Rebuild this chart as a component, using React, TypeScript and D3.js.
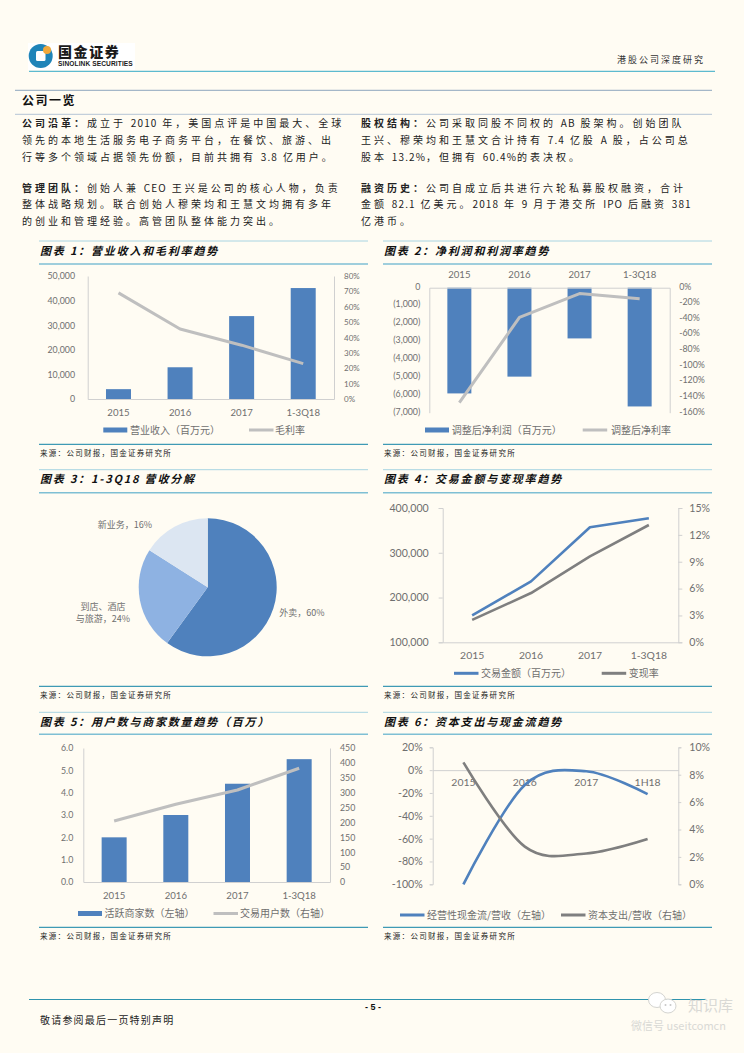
import React, { useEffect, useRef } from "react";
import * as d3 from "d3";

// data
const years = ["2015", "2016", "2017", "1-3Q18"];

const revenue = [4000, 12900, 33700, 45100];
const grossMargin = [69, 45.5, 35, 23];
const revenueTicks = [0, 10000, 20000, 30000, 40000, 50000];
const marginTicks = [0, 10, 20, 30, 40, 50, 60, 70, 80];

const adjProfit = [-5920, -4980, -2840, -6650];
const adjMargin = [-147, -38, -7.5, -14];
const profitTicks = [0, -1000, -2000, -3000, -4000, -5000, -6000, -7000];
const profitMarginTicks = [0, -20, -40, -60, -80, -100, -120, -140, -160];

const pieLabels = ["外卖", "到店、酒店与旅游", "新业务"];
const pieValues = [60, 24, 16];

const gmv = [160000, 236000, 357000, 377000];
const takeRate = [2.5, 5.5, 9.6, 13.1];
const gmvTicks = [100000, 200000, 300000, 400000];
const takeTicks = [0, 3, 6, 9, 12, 15];

const merchants = [2.0, 3.0, 4.4, 5.5];
const buyers = [205, 261, 309, 382];
const merchantTicks = [0, 1, 2, 3, 4, 5, 6];
const buyerTicks = [0, 50, 100, 150, 200, 250, 300, 350, 400, 450];

const cashPeriods = ["2015", "2016", "2017", "1H18"];
const cashFlow = [-100, -13, -1, -21];
const capex = [8.9, 2.75, 2.25, 3.3];
const cashTicks = [20, 0, -20, -40, -60, -80, -100];
const capexTicks = [0, 2, 4, 6, 8, 10];

const introLeft = [
  ["公司沿革：", "成立于 2010 年，美国点评是中国最大、全球"],
  ["", "领先的本地生活服务电子商务平台，在餐饮、旅游、出"],
  ["", "行等多个领域占据领先份额，目前共拥有 3.8 亿用户。"],
  ["管理团队：", "创始人兼 CEO 王兴是公司的核心人物，负责"],
  ["", "整体战略规划。联合创始人穆荣均和王慧文均拥有多年"],
  ["", "的创业和管理经验。高管团队整体能力突出。"],
];
const introRight = [
  ["股权结构：", "公司采取同股不同权的 AB 股架构。创始团队"],
  ["", "王兴、穆荣均和王慧文合计持有 7.4 亿股 A 股，占公司总"],
  ["", "股本 13.2%，但拥有 60.4%的表决权。"],
  ["融资历史：", "公司自成立后共进行六轮私募股权融资，合计"],
  ["", "金额 82.1 亿美元。2018 年 9 月于港交所 IPO 后融资 381"],
  ["", "亿港币。"],
];
const introY = [123, 140, 157, 188.5, 204.5, 221];

const CJK = "'Noto Sans CJK SC', 'Liberation Sans', sans-serif";
const NUM = "Lato, 'Noto Sans CJK SC', sans-serif";
const BLUE = "#4f81bd";
const LIGHT = "#bfbfbf";
const DARK = "#7f7f7f";
const AXIS = "#d0d0d0";
const LABEL = "#6f6f6f";

type G = d3.Selection<any, unknown, null, undefined>;

function addText(g: G, x: number, y: number, s: string, size: number, fill: string, anchor = "start") {
  return g
    .append("text")
    .attr("x", x)
    .attr("y", y)
    .attr("dy", "0.35em")
    .attr("text-anchor", anchor)
    .attr("font-family", CJK)
    .attr("font-size", size)
    .attr("fill", fill)
    .text(s);
}

function hline(g: G, x1: number, x2: number, y: number, color: string, w = 1) {
  g.append("line").attr("x1", x1).attr("x2", x2).attr("y1", y).attr("y2", y).attr("stroke", color).attr("stroke-width", w);
}

// cjk gets wide tracking, latin and digits much less
function spacedRuns(t: d3.Selection<any, unknown, null, undefined>, s: string, weight: string) {
  s.split(/([\x20-\x7e]+)/)
    .filter((r) => r.length)
    .forEach((r) => {
      const latin = /^[\x20-\x7e]+$/.test(r);
      t.append("tspan")
        .attr("font-weight", weight)
        .attr("letter-spacing", latin ? 1.1 : 3)
        .attr("word-spacing", latin ? 1.5 : 0)
        .style("white-space", "pre")
        .text(r);
    });
}

function intro(g: G, x: number, lines: string[][]) {
  lines.forEach((l, i) => {
    const t = g
      .append("text")
      .attr("x", x)
      .attr("y", introY[i])
      .attr("dy", "0.35em")
      .attr("font-family", CJK)
      .attr("font-size", 10)
      .attr("fill", "#222");
    if (l[0]) spacedRuns(t, l[0], "700");
    spacedRuns(t, l[1], "400");
  });
}

function panel(g: G, x1: number, x2: number, title: string, top: number, titleY: number, rule: number, bottom: number) {
  hline(g, x1, x2, top, "#a8d4e2", 1);
  hline(g, x1, x2, rule, "#7fbfd4", 1.4);
  hline(g, x1, x2, bottom, "#3f9ab5", 1.2);
  g.append("text")
    .attr("x", x1 + 1)
    .attr("y", titleY)
    .attr("dy", "0.35em")
    .attr("font-family", CJK)
    .attr("font-size", 11)
    .attr("font-weight", 700)
    .attr("font-style", "italic")
    .attr("letter-spacing", 1.8)
    .attr("fill", "#111")
    .text(title);
  addText(g, x1 + 1, bottom + 9, "来源：公司财报，国金证券研究所", 7.5, "#222").attr("letter-spacing", 1.3);
}

function yAxis(
  g: G,
  scale: d3.ScaleLinear<number, number>,
  x: number,
  side: "left" | "right",
  ticks: number[],
  fmt: (v: number) => string,
  size: number,
  pad: number,
  tick = 0,
  lift = 0
) {
  const axis = (side === "left" ? d3.axisLeft(scale) : d3.axisRight(scale))
    .tickValues(ticks)
    .tickFormat((v) => fmt(+v))
    .tickSize(tick)
    .tickSizeOuter(tick)
    .tickPadding(pad);
  const a = g.append("g").attr("transform", `translate(${x},0)`).call(axis);
  a.selectAll("path, line").attr("stroke", AXIS);
  a.selectAll("text")
    .attr("fill", LABEL)
    .attr("font-family", NUM)
    .attr("font-size", size)
    .attr("y", -lift);
}

function xAxis(g: G, scale: d3.ScaleBand<string>, y: number, size: number, pad: number, top = false, line = true) {
  const axis = (top ? d3.axisTop(scale) : d3.axisBottom(scale)).tickSize(0).tickPadding(pad);
  const a = g.append("g").attr("transform", `translate(0,${y})`).call(axis);
  a.selectAll("path").attr("stroke", line ? AXIS : "none");
  a.selectAll("text").attr("fill", LABEL).attr("font-family", NUM).attr("font-size", size);
}

function bars(g: G, x: d3.ScaleBand<string>, y: d3.ScaleLinear<number, number>, cats: string[], vals: number[], w: number) {
  g.selectAll(null)
    .data(vals)
    .join("rect")
    .attr("x", (_, i) => x(cats[i])! + x.bandwidth() / 2 - w / 2)
    .attr("width", w)
    .attr("y", (d) => Math.min(y(d), y(0)))
    .attr("height", (d) => Math.abs(y(d) - y(0)))
    .attr("fill", BLUE);
}

function trend(
  g: G,
  x: d3.ScaleBand<string>,
  y: d3.ScaleLinear<number, number>,
  cats: string[],
  vals: number[],
  color: string,
  w: number,
  curve: d3.CurveFactory = d3.curveLinear
) {
  const line = d3
    .line<number>()
    .x((_, i) => x(cats[i])! + x.bandwidth() / 2)
    .y((d) => y(d))
    .curve(curve);
  g.append("path").attr("d", line(vals)).attr("fill", "none").attr("stroke", color).attr("stroke-width", w).attr("stroke-linejoin", "round");
}

function legendBar(g: G, x: number, y: number, label: string, textX: number, size = 10) {
  g.append("rect").attr("x", x).attr("y", y - 2.5).attr("width", 24).attr("height", 5).attr("fill", BLUE);
  addText(g, textX, y, label, size, LABEL);
}

function legendLine(g: G, x: number, y: number, color: string, label: string, textX: number, size = 10) {
  g.append("line").attr("x1", x).attr("x2", x + 24.5).attr("y1", y).attr("y2", y).attr("stroke", color).attr("stroke-width", 3);
  addText(g, textX, y, label, size, LABEL);
}

const pct = (v: number) => `${v}%`;
const comma = d3.format(",");
const paren = (v: number) => (v < 0 ? `(${comma(-v)})` : comma(v));

function drawHeader(g: G) {
  g.append("rect").attr("x", 28).attr("y", 43).attr("width", 107).attr("height", 27).attr("fill", "#fff");
  g.append("circle").attr("cx", 40.7).attr("cy", 56).attr("r", 12).attr("fill", "#1f84b8");
  g.append("rect").attr("x", 36).attr("y", 51).attr("width", 9.5).attr("height", 10).attr("rx", 1.5).attr("fill", "#fff");
  g.append("circle").attr("cx", 47).attr("cy", 50).attr("r", 4).attr("fill", "#f2a93b");
  addText(g, 58, 52.5, "国金证券", 14, "#1a1a1a").attr("font-weight", 900).attr("letter-spacing", 1.6);
  g.append("text")
    .attr("x", 58)
    .attr("y", 66)
    .attr("font-family", "'Liberation Sans', sans-serif")
    .attr("font-weight", 700)
    .attr("font-size", 6.6)
    .attr("letter-spacing", 0.1)
    .attr("fill", "#1a1a1a")
    .text("SINOLINK SECURITIES");
  hline(g, 29, 715, 71.3, "#35a9c6", 1);
  addText(g, 705, 60, "港股公司深度研究", 9, "#333", "end").attr("letter-spacing", 2);

  hline(g, 15, 712, 90.3, "#8ea6bd", 1);
  hline(g, 15, 712, 114.3, "#c3cfdb", 1.2);
  addText(g, 22, 100.5, "公司一览", 12, "#111").attr("font-weight", 700).attr("letter-spacing", 1.5);

  intro(g, 22, introLeft);
  intro(g, 361, introRight);
}

function drawFooter(g: G) {
  hline(g, 29, 706, 999.5, "#2f93ad", 1);
  g.append("text")
    .attr("x", 373)
    .attr("y", 1006.5)
    .attr("dy", "0.35em")
    .attr("text-anchor", "middle")
    .attr("font-family", "'Liberation Sans', sans-serif")
    .attr("font-weight", 700)
    .attr("font-size", 9)
    .attr("fill", "#111")
    .attr("style", "white-space:pre")
    .text("- 5 -");
  addText(g, 40, 1020, "敬请参阅最后一页特别声明", 10, "#222").attr("letter-spacing", 1.2);

  // watermark
  g.append("ellipse").attr("cx", 657).attr("cy", 1000).attr("rx", 8.5).attr("ry", 7.5).attr("fill", "#fff").attr("stroke", "#d4d4d0");
  g.append("ellipse").attr("cx", 668).attr("cy", 1006).attr("rx", 8).attr("ry", 7).attr("fill", "#fff").attr("stroke", "#d4d4d0");
  g.append("circle").attr("cx", 665.5).attr("cy", 1005).attr("r", 1).attr("fill", "#c8c8c8");
  g.append("circle").attr("cx", 670.5).attr("cy", 1005).attr("r", 1).attr("fill", "#c8c8c8");
  addText(g, 688, 1006, "知识库", 15, "#d9d9d5");
  addText(g, 631, 1026, "微信号 useitcomcn", 11, "#d9d9d5");
}

function chartRevenue(g: G) {
  panel(g, 39, 368, "图表 1：营业收入和毛利率趋势", 241, 251, 264, 444.3);
  const x = d3.scaleBand<string>().domain(years).range([87.7, 334]);
  const yl = d3.scaleLinear().domain([0, 50000]).range([399, 276]);
  const yr = d3.scaleLinear().domain([0, 80]).range([399, 276]);
  yAxis(g, yl, 87.7, "left", revenueTicks, comma, 8.8, 12.7);
  yAxis(g, yr, 334, "right", marginTicks, pct, 8, 10);
  bars(g, x, yl, years, revenue, 25);
  xAxis(g, x, 399, 9.6, 10);
  trend(g, x, yr, years, grossMargin, LIGHT, 3);
  legendBar(g, 103.3, 430, "营业收入（百万元）", 130);
  legendLine(g, 249, 430, LIGHT, "毛利率", 275);
}

function chartProfit(g: G) {
  panel(g, 383, 712, "图表 2：净利润和利润率趋势", 241, 251, 264, 444.3);
  const x = d3.scaleBand<string>().domain(years).range([429.3, 669.7]);
  const yl = d3.scaleLinear().domain([-7000, 0]).range([412.7, 287.7]);
  const yr = d3.scaleLinear().domain([-160, 0]).range([412.7, 287.7]);
  yAxis(g, yl, 429.3, "left", profitTicks, paren, 8.8, 9, 0, 1.5);
  yAxis(g, yr, 669.7, "right", profitMarginTicks, pct, 8.8, 9.5, 0, 1.5);
  bars(g, x, yl, years, adjProfit, 24);
  xAxis(g, x, 287.7, 9.6, 10, true);
  trend(g, x, yr, years, adjMargin, LIGHT, 3);
  legendBar(g, 425, 430, "调整后净利润（百万元）", 451.7);
  legendLine(g, 582.7, 430, LIGHT, "调整后净利率", 611);
}

function chartPie(g: G) {
  panel(g, 39, 368, "图表 3：1-3Q18 营收分解", 469.7, 479.3, 492.7, 686.3);
  const colors = d3.scaleOrdinal<string, string>().domain(pieLabels).range([BLUE, "#8eb2e2", "#dce6f2"]);
  const arcs = d3.pie<number>().sort(null)(pieValues);
  const arc = d3.arc<d3.PieArcDatum<number>>().innerRadius(0).outerRadius(69);
  g.append("g")
    .attr("transform", "translate(207.7,587.3)")
    .selectAll("path")
    .data(arcs)
    .join("path")
    .attr("d", arc)
    .attr("fill", (_, i) => colors(pieLabels[i]));
  addText(g, 302, 612.7, `${pieLabels[0]}，${pieValues[0]}%`, 9, LABEL, "middle");
  addText(g, 103, 606.7, pieLabels[1].slice(0, 5), 9, LABEL, "middle");
  addText(g, 103, 619.2, `${pieLabels[1].slice(5)}，${pieValues[1]}%`, 9, LABEL, "middle");
  addText(g, 125, 525.3, `${pieLabels[2]}，${pieValues[2]}%`, 9, LABEL, "middle");
}

function chartGmv(g: G) {
  panel(g, 383, 712, "图表 4：交易金额与变现率趋势", 469.7, 479.3, 492.7, 686.3);
  const x = d3.scaleBand<string>().domain(years).range([442.7, 678.3]);
  const yl = d3.scaleLinear().domain([100000, 400000]).range([642.3, 508]);
  const yr = d3.scaleLinear().domain([0, 15]).range([642.3, 508]);
  yAxis(g, yl, 442.7, "left", gmvTicks, comma, 10.6, 10, 4);
  yAxis(g, yr, 678.3, "right", takeTicks, pct, 10.6, 7, 4);
  xAxis(g, x, 642.3, 10.4, 9);
  trend(g, x, yl, years, gmv, BLUE, 2.6);
  trend(g, x, yr, years, takeRate, DARK, 2.6);
  legendLine(g, 454, 673.3, BLUE, "交易金额（百万元）", 481, 10);
  legendLine(g, 601.7, 673.3, DARK, "变现率", 628.7, 10);
}

function chartUsers(g: G) {
  panel(g, 39, 368, "图表 5：用户数与商家数量趋势（百万）", 712.3, 721.7, 734.3, 927.3);
  const x = d3.scaleBand<string>().domain(years).range([83.3, 330]);
  const yl = d3.scaleLinear().domain([0, 6]).range([882, 748]);
  const yr = d3.scaleLinear().domain([0, 450]).range([882, 748]);
  yAxis(g, yl, 83.3, "left", merchantTicks, d3.format(".1f"), 8.8, 10);
  yAxis(g, yr, 330, "right", buyerTicks, String, 8.8, 10);
  bars(g, x, yl, years, merchants, 25);
  xAxis(g, x, 882, 9.6, 10);
  trend(g, x, yr, years, buyers, LIGHT, 3);
  legendBar(g, 78, 913.5, "活跃商家数（左轴）", 104.5);
  legendLine(g, 213.5, 913.5, LIGHT, "交易用户数（右轴）", 240);
}

function chartCash(g: G) {
  panel(g, 383, 712, "图表 6：资本支出与现金流趋势", 712.3, 721.7, 734.3, 927.3);
  const x = d3.scaleBand<string>().domain(cashPeriods).range([432.7, 678.3]);
  const yl = d3.scaleLinear().domain([-100, 20]).range([884.3, 747.3]);
  const yr = d3.scaleLinear().domain([0, 10]).range([884.3, 747.3]);
  yAxis(g, yl, 432.7, "left", cashTicks, pct, 10.6, 7, 3);
  yAxis(g, yr, 678.3, "right", capexTicks, pct, 10.6, 8, 3);
  xAxis(g, x, yl(0), 10.4, 8);
  const smooth = d3.curveCatmullRom.alpha(0);
  trend(g, x, yl, cashPeriods, cashFlow, BLUE, 2.6, smooth);
  trend(g, x, yr, cashPeriods, capex, DARK, 2.6, smooth);
  legendLine(g, 400, 915, BLUE, "经营性现金流/营收（左轴）", 427, 10);
  legendLine(g, 561, 915, DARK, "资本支出/营收（右轴）", 588, 10);
}

export default function App() {
  const ref = useRef<SVGSVGElement>(null);

  useEffect(() => {
    const svg = d3.select(ref.current) as unknown as G;
    svg.selectAll("*").remove();
    svg.append("rect").attr("width", 744).attr("height", 1053).attr("fill", "#fffcf3");
    drawHeader(svg);
    chartRevenue(svg);
    chartProfit(svg);
    chartPie(svg);
    chartGmv(svg);
    chartUsers(svg);
    chartCash(svg);
    drawFooter(svg);
  }, []);

  return <svg ref={ref} width={744} height={1053} style={{ position: "absolute", left: 0, top: 0 }} />;
}
